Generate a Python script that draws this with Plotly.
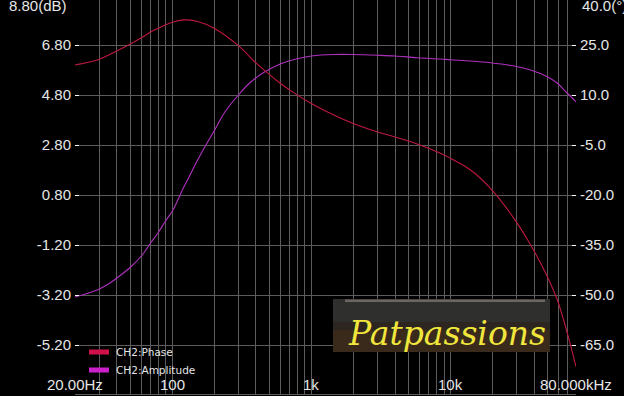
import numpy as np
import plotly.graph_objects as go

# ---------------- data ----------------
freq_phase = [20, 25, 30, 35, 40, 50, 60, 70, 80, 100, 120, 150, 200, 300, 400, 500, 598,
              789, 1000, 1450, 2000, 3000, 4000, 5770, 8490, 10000, 13960, 19400, 28630,
              37760, 49800, 58760, 69350, 80000]
phase_deg = [19.0, 19.8, 20.74, 22.0, 23.23, 25.3, 27.16, 28.87, 30.07, 31.81, 32.53,
             32.14, 30.04, 24.76, 19.63, 16.12, 13.54, 10.03, 7.45, 3.97, 1.45, -1.1,
             -2.6, -4.7, -7.49, -8.99, -12.5, -18.0, -27.0, -35.0, -44.5, -51.5, -61.5,
             -71.5]

freq_amp = [20, 25, 30, 35, 40, 50, 60, 70, 80, 90, 100, 110, 120, 130, 150, 170, 200,
            240, 300, 364, 454, 598, 789, 1000, 1450, 2000, 3000, 4000, 5770, 8490,
            10000, 13960, 19400, 28630, 37760, 49800, 58760, 69350, 80000]
amp_db = [-3.28, -3.12, -2.96, -2.75, -2.52, -2.09, -1.64, -1.12, -0.67, -0.22, 0.15,
          0.61, 1.07, 1.44, 2.13, 2.68, 3.36, 4.13, 4.81, 5.30, 5.70, 6.04, 6.25, 6.36,
          6.42, 6.42, 6.39, 6.36, 6.29, 6.24, 6.21, 6.16, 6.09, 5.96, 5.80, 5.53, 5.27,
          4.87, 4.53]

series_names = ["CH2:Phase", "CH2:Amplitude"]

x_tick_vals = [20, 100, 1000, 10000, 80000]
x_tick_text = ["20.00Hz", "100", "1k", "10k", "80.000kHz"]
x_minor_vals = [m * d for d in (10, 100, 1000, 10000) for m in range(2, 10)
                if 20 < m * d < 80000 and m * d not in (100, 1000, 10000)]

left_ticks = [6.8, 4.8, 2.8, 0.8, -1.2, -3.2, -5.2]
left_text = ["6.80", "4.80", "2.80", "0.80", "-1.20", "-3.20", "-5.20"]
right_ticks = [25, 10, -5, -20, -35, -50, -65]
right_text = ["25.0", "10.0", "-5.0", "-20.0", "-35.0", "-50.0", "-65.0"]
top_left_label = "8.80(dB)"
top_right_label = "40.0(°)"
logo_text = "Patpassions"

# ---------------- layout geometry ----------------
W, H = 624, 396
ML, MR, MT, MB = 75, 48, 0, 2
PW, PH = W - ML - MR, H - MT - MB

def px_x(x):
    return (x - ML) / PW

def px_y(y):
    return (H - MB - y) / PH

GRID = "#5c5c5c"
TXT = "#e6e6e6"
RED = "#c01840"
MAG = "#b030c0"

fig = go.Figure()
fig.add_trace(go.Scatter(x=freq_amp, y=amp_db, mode="lines", name=series_names[1],
                         line=dict(color=MAG, width=1.1, shape="spline", smoothing=1.0),
                         yaxis="y", showlegend=False))
fig.add_trace(go.Scatter(x=freq_phase, y=phase_deg, mode="lines", name=series_names[0],
                         line=dict(color=RED, width=1.1, shape="spline", smoothing=1.0),
                         yaxis="y2", showlegend=False))

fig.update_layout(
    width=W, height=H,
    margin=dict(l=ML, r=MR, t=MT, b=MB, pad=0),
    paper_bgcolor="black", plot_bgcolor="black",
    font=dict(family="Liberation Sans, Arial", color=TXT, size=15),
    xaxis=dict(type="log", range=[np.log10(20), np.log10(80000)],
               tickvals=x_tick_vals, showticklabels=False, ticks="",
               showgrid=True, gridcolor=GRID, gridwidth=1,
               minor=dict(tickvals=x_minor_vals, showgrid=True, gridcolor=GRID,
                          gridwidth=1, ticks=""),
               showline=True, linecolor=GRID, linewidth=1, zeroline=False),
    yaxis=dict(range=[-7.16, 8.6], tickvals=left_ticks, ticktext=left_text,
               ticks="inside", ticklen=4, tickcolor="white", tickwidth=1,
               showgrid=True, gridcolor=GRID, gridwidth=1, zeroline=False,
               showline=False, tickfont=dict(size=15, color=TXT),
               ticklabelstandoff=3),
    yaxis2=dict(range=[-79.7, 38.5], overlaying="y", side="right",
                tickvals=right_ticks, ticktext=right_text,
                ticks="inside", ticklen=4, tickcolor="white", tickwidth=1,
                showgrid=False, zeroline=False, showline=False,
                tickfont=dict(size=15, color=TXT), ticklabelstandoff=3),
)

annotations = []
for v, t in zip(x_tick_vals, x_tick_text):
    annotations.append(dict(x=np.log10(v), xref="x", y=0, yref="paper",
                            yanchor="bottom", xanchor="center", yshift=-1,
                            text=t, showarrow=False,
                            font=dict(size=15, color=TXT)))
annotations.append(dict(x=0, xref="paper", y=1, yref="paper", xanchor="right",
                        yanchor="middle", xshift=-6, yshift=-5, text=top_left_label,
                        showarrow=False, font=dict(size=15, color=TXT)))
annotations.append(dict(x=1, xref="paper", y=1, yref="paper", xanchor="left",
                        yanchor="middle", xshift=4, yshift=-5, text=top_right_label,
                        showarrow=False, font=dict(size=15, color=TXT)))

# legend (manual)
shapes = []
leg_rows = [(series_names[0], "#d01048", 352), (series_names[1], "#cc20cc", 370)]
for name, col, yc in leg_rows:
    shapes.append(dict(type="rect", xref="paper", yref="paper",
                       x0=px_x(89), x1=px_x(109), y0=px_y(yc + 2.5), y1=px_y(yc - 2.5),
                       fillcolor=col, line=dict(width=0), layer="above"))
    annotations.append(dict(x=px_x(114), xref="paper", y=px_y(yc), yref="paper",
                            xanchor="left", yanchor="middle", text=name, showarrow=False,
                            font=dict(family="DejaVu Sans", size=10.5, color=TXT)))

# logo box
shapes.append(dict(type="rect", xref="paper", yref="paper",
                   x0=px_x(333), x1=px_x(550), y0=px_y(352), y1=px_y(299),
                   fillcolor="#2c2520", line=dict(width=0), layer="above"))
shapes.append(dict(type="rect", xref="paper", yref="paper",
                   x0=px_x(333), x1=px_x(550), y0=px_y(322), y1=px_y(299),
                   fillcolor="#2f2f2e", line=dict(width=0), layer="above"))
shapes.append(dict(type="rect", xref="paper", yref="paper",
                   x0=px_x(345), x1=px_x(545), y0=px_y(302), y1=px_y(299.5),
                   fillcolor="#6b6661", line=dict(width=0), layer="above"))
shapes.append(dict(type="rect", xref="paper", yref="paper",
                   x0=px_x(333), x1=px_x(550), y0=px_y(352), y1=px_y(330),
                   fillcolor="#3a2a1c", line=dict(width=0), layer="above"))
annotations.append(dict(x=px_x(346), xref="paper", y=px_y(333), yref="paper",
                        xanchor="left", yanchor="middle", text=logo_text, showarrow=False,
                        font=dict(family="DejaVu Serif", size=33, color="#f0e63c",
                                  style="italic")))

fig.update_layout(shapes=shapes, annotations=annotations)
fig.write_html("out.html")
